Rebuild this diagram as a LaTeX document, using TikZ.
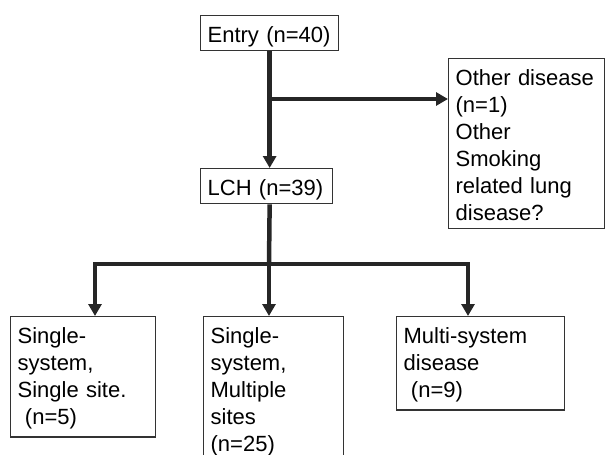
\documentclass[tikz,border=0pt]{standalone}
\usepackage{fontspec}
\setmainfont{Liberation Sans}
\usetikzlibrary{arrows.meta}

\begin{document}
\begin{tikzpicture}[x=1pt, y=-1pt]
		\tikzstyle{box} = [rectangle, draw=black!80, line width=1.3pt, anchor=north west, align=left, inner xsep=7pt, inner ysep=8pt, font=\fontsize{22}{27}\selectfont, text=black]
		\tikzstyle{single_box} = [box, text height=19pt, text depth=0pt]
		\tikzstyle{flow_line} = [line width=4.5pt, draw=black!85]
		\tikzstyle{flow_arrow} = [flow_line, -{Triangle[width=13pt, length=12pt]}]

		\useasboundingbox (0,0) rectangle (606,455);

		% Entry and LCH
		\node[single_box, text width=124pt](entry) at (200,15) {Entry (n=40)};
		\node[single_box, text width=118pt](lch) at (200,168) {LCH (n=39)};
		\node[box, text width=142pt](other) at (448,58) {\strut Other disease\\(n=1)\\Other\\Smoking\\related lung\\disease?};

		% Groups
		\node[box, text width=131pt](single) at (10,316) {\strut Single-\\system,\\Single site.\\~(n=5)};
		\node[box, text width=126pt](multiple) at (203,316) {\strut Single-\\system,\\Multiple\\sites\\(n=25)};
		\node[box, text width=154pt](multisys) at (396,316) {\strut Multi-system\\disease\\~(n=9)};

		\coordinate (split) at (269,99);
		\coordinate (fork) at (269,264);

		% Entry to LCH, side branch to other disease
		\draw[flow_arrow] (entry.south) -- (lch.north -| entry.south);
		\draw[flow_arrow] (split) -- (split -| other.west);

		% LCH to the three groups
		\draw[flow_line] (lch.south -| entry.south) -- (fork);
		\foreach \name/\x in {single/95, multiple/269, multisys/468} {
				\draw[flow_arrow] (fork) -| (\name.north -| \x,0);
			};

	\end{tikzpicture}
\end{document}
